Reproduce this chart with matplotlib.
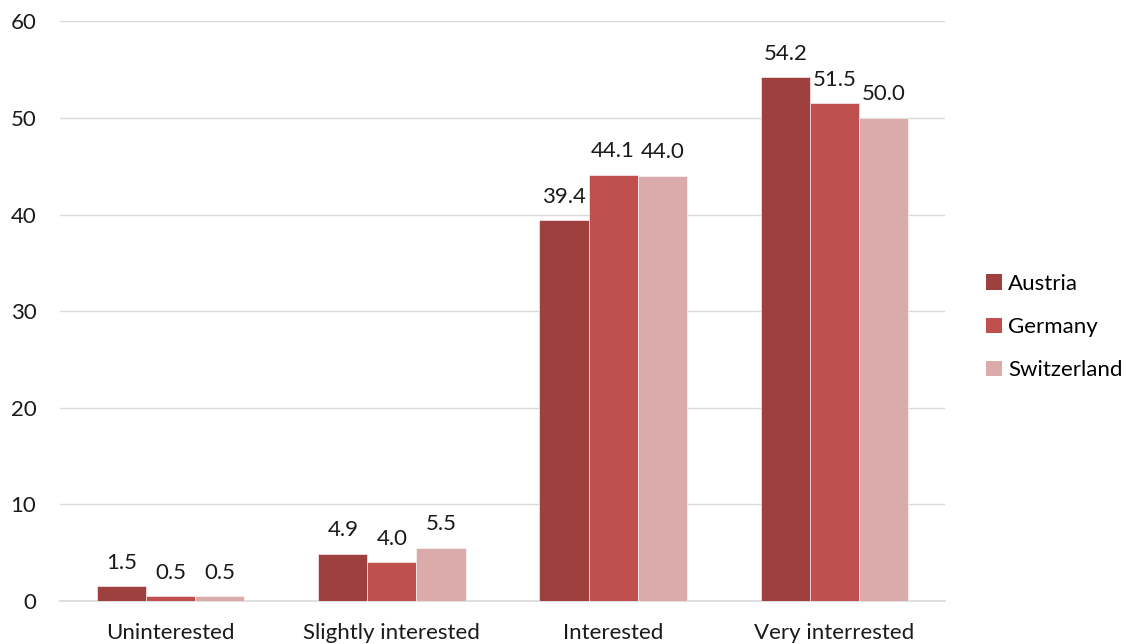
import numpy as np
import matplotlib.pyplot as plt
from matplotlib.patches import Patch

plt.rcParams['font.family'] = ['Lato', 'DejaVu Sans']

categories = ['Uninterested', 'Slightly interested', 'Interested', 'Very interrested']
countries = ['Austria', 'Germany', 'Switzerland']
austria = [1.5, 4.9, 39.4, 54.2]
germany = [0.5, 4.0, 44.1, 51.5]
switzerland = [0.5, 5.5, 44.0, 50.0]
colors = ['#9E403E', '#C0504D', '#DAABAA']

fs = 16

fig = plt.figure(figsize=(11.26, 6.44), dpi=100)
ax = fig.add_axes([0.0533, 0.0668, 0.786, 0.9])

x = np.arange(len(categories))
w = 0.222
for i, (vals, c) in enumerate(zip([austria, germany, switzerland], colors)):
    pos = x + (i - 1) * w
    ax.bar(pos, vals, width=w, color=c, edgecolor='white', linewidth=0.4, zorder=3)
    for xp, v in zip(pos, vals):
        ax.text(xp, v + 1.4, f'{v:.1f}', ha='center', va='bottom', fontsize=fs, color='#1a1a1a')

ax.set_xlim(-0.5, 3.5)
ax.set_ylim(0, 60)
ax.set_yticks(range(0, 61, 10))
ax.set_xticks(x)
ax.set_xticklabels(categories)
ax.tick_params(axis='both', length=0, labelsize=fs, colors='#1a1a1a')
ax.tick_params(axis='x', pad=16)
ax.tick_params(axis='y', pad=17)
ax.grid(axis='y', color='#D9D9D9', linewidth=1, zorder=0)
for s in ['top', 'right', 'left']:
    ax.spines[s].set_visible(False)
ax.spines['bottom'].set_color('#D9D9D9')
ax.spines['bottom'].set_linewidth(1.2)

handles = [Patch(facecolor=c, label=n) for c, n in zip(colors, countries)]
fig.legend(handles=handles, loc='center left', bbox_to_anchor=(0.858, 0.492),
           frameon=False, fontsize=fs, handlelength=0.7, handleheight=0.7,
           handletextpad=0.3, labelspacing=1.05)

fig.savefig('out.png', dpi=100)
